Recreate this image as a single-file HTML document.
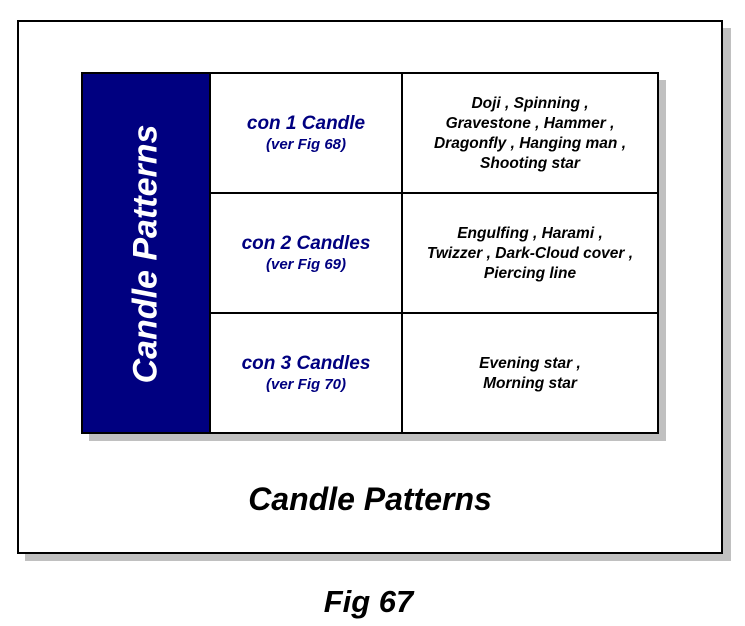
<!DOCTYPE html>
<html><head><style>
body{margin:0;width:745px;height:626px;background:#fff;position:relative;overflow:hidden;font-family:"Liberation Sans",Arial,sans-serif;font-weight:bold;font-style:italic}
.a{position:absolute}
.c{position:absolute;text-align:center;white-space:nowrap}
.mid{color:#000080;font-size:19px;line-height:22px}
.mid small{font-size:15px;display:block;line-height:20px}
.rt{color:#000;font-size:15.5px;line-height:20px}
</style></head><body>
<div class="a" style="left:25px;top:28px;width:706px;height:533px;background:#c0c0c0"></div>
<div class="a" style="left:17px;top:20px;width:702px;height:530px;border:2px solid #000;background:#fff"></div>
<div class="a" style="left:89px;top:80px;width:577px;height:361px;background:#c0c0c0"></div>
<div class="a" style="left:81px;top:72px;width:574px;height:358px;border:2px solid #000;background:#fff"></div>
<div class="a" style="left:83px;top:74px;width:127px;height:358px;background:#000080"></div>
<div class="a" style="left:209px;top:72px;width:2px;height:361px;background:#000"></div>
<div class="a" style="left:401px;top:72px;width:2px;height:361px;background:#000"></div>
<div class="a" style="left:209px;top:192px;width:448px;height:2px;background:#000"></div>
<div class="a" style="left:209px;top:312px;width:448px;height:2px;background:#000"></div>
<div class="c" style="left:146px;top:254px;transform:translate(-50%,-50%) rotate(-90deg);color:#fff;font-size:34px">Candle Patterns</div>
<div class="c mid" style="left:211px;width:190px;top:113px">con 1 Candle<small>(ver Fig 68)</small></div>
<div class="c mid" style="left:211px;width:190px;top:233px">con 2 Candles<small>(ver Fig 69)</small></div>
<div class="c mid" style="left:211px;width:190px;top:353px">con 3 Candles<small>(ver Fig 70)</small></div>
<div class="c rt" style="left:403px;width:254px;top:94px">Doji , Spinning ,<br>Gravestone , Hammer ,<br>Dragonfly , Hanging man ,<br>Shooting star</div>
<div class="c rt" style="left:403px;width:254px;top:224px">Engulfing , Harami ,<br>Twizzer , Dark-Cloud cover ,<br>Piercing line</div>
<div class="c rt" style="left:403px;width:254px;top:354px">Evening star ,<br>Morning star</div>
<div class="c" style="left:17px;width:706px;top:481px;font-size:32px;line-height:36px">Candle Patterns</div>
<div class="c" style="left:0;width:737px;top:584px;font-size:31px;line-height:36px">Fig 67</div>
</body></html>
